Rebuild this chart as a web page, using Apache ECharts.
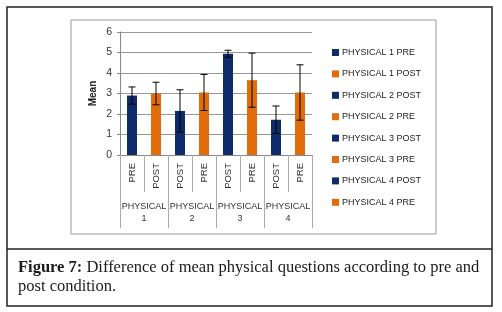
<!DOCTYPE html>
<html><head><meta charset="utf-8">
<script src="https://cdn.jsdelivr.net/npm/echarts@6/dist/echarts.min.js"></script>
<style>html,body{margin:0;padding:0;background:#fff}#c{width:502px;height:312px}</style>
</head><body><div id="c"></div>
<script>
const categories = ['PRE','POST','POST','PRE','POST','PRE','POST','PRE'];
const groups = ['PHYSICAL\n1','PHYSICAL\n2','PHYSICAL\n3','PHYSICAL\n4'];
const seriesNames = ['PHYSICAL 1 PRE','PHYSICAL 1 POST','PHYSICAL 2 POST','PHYSICAL 2 PRE','PHYSICAL 3 POST','PHYSICAL 3 PRE','PHYSICAL 4 POST','PHYSICAL 4 PRE'];
const means = [2.9, 3.0, 2.15, 3.05, 4.94, 3.65, 1.72, 3.05];
const errors = [0.42, 0.55, 1.03, 0.88, 0.17, 1.32, 0.67, 1.35];
const yTicks = [0,1,2,3,4,5,6];
const NAVY = '#0F2C6A', ORANGE = '#E36C0A';
const colors = seriesNames.map((n,i)=> i%2===0 ? NAVY : ORANGE);
const FONT = 'Liberation Sans';

const chart = echarts.init(document.getElementById('c'), null, {renderer:'canvas'});
const barSeries = seriesNames.map((name,i)=>({
  name, type:'bar', stack:'all', barWidth:10,
  itemStyle:{color:colors[i]},
  data: means.map((v,j)=> j===i ? v : '-'),
  xAxisIndex:0, yAxisIndex:0, z:2
}));
const errSeries = {
  type:'custom', xAxisIndex:0, yAxisIndex:0, z:5, silent:true,
  data: means.map((v,i)=>[i, v-errors[i], v+errors[i]]),
  renderItem:(params, api)=>{
    const lo = api.coord([api.value(0), api.value(1)]);
    const hi = api.coord([api.value(0), api.value(2)]);
    const hw = 3.5;
    const st = {stroke:'#000', lineWidth:1};
    return {type:'group', children:[
      {type:'line', shape:{x1:lo[0],y1:lo[1],x2:hi[0],y2:hi[1]}, style:st},
      {type:'line', shape:{x1:lo[0]-hw,y1:lo[1],x2:lo[0]+hw,y2:lo[1]}, style:st},
      {type:'line', shape:{x1:hi[0]-hw,y1:hi[1],x2:hi[0]+hw,y2:hi[1]}, style:st}
    ]};
  }
};
chart.setOption({
  animation:false,
  textStyle:{fontFamily:FONT},
  grid:{left:120, top:32, width:192, height:123, containLabel:false},
  legend:{
    orient:'vertical', left:327, top:43, itemWidth:7, itemHeight:7, itemGap:12.4,
    icon:'rect', data:seriesNames,
    textStyle:{fontFamily:FONT, fontSize:9, color:'#222', padding:[0,0,0,-2]}
  },
  xAxis:[{
    type:'category', data:categories, position:'bottom',
    axisLine:{lineStyle:{color:'#888'}},
    axisTick:{show:true, length:37, interval:0, lineStyle:{color:'#aaa'}},
    axisLabel:{rotate:90, margin:8, fontSize:9.5, color:'#333', fontFamily:FONT, interval:0}
  },{
    type:'category', data:groups, position:'bottom', offset:0,
    axisLine:{show:false},
    axisTick:{show:true, length:73, interval:0, lineStyle:{color:'#aaa'}},
    axisLabel:{margin:46, fontSize:9, lineHeight:12, color:'#333', fontFamily:FONT, interval:0}
  }],
  yAxis:{
    type:'value', min:yTicks[0], max:yTicks[yTicks.length-1], interval:1,
    name:'Mean', nameLocation:'middle', nameGap:22, nameRotate:90,
    nameTextStyle:{fontWeight:'bold', fontSize:10, color:'#222', fontFamily:FONT},
    axisLine:{show:true, lineStyle:{color:'#888'}},
    axisTick:{show:true, length:3, lineStyle:{color:'#888'}},
    axisLabel:{fontSize:10.5, color:'#333', margin:8, fontFamily:FONT},
    splitLine:{lineStyle:{color:'#999'}}
  },
  series:[...barSeries, errSeries],
  graphic:[
    {type:'rect', shape:{x:7,y:7,width:485,height:299}, style:{fill:'none', stroke:'#222', lineWidth:1.5}, z:-1},
    {type:'line', shape:{x1:7,y1:249,x2:492,y2:249}, style:{stroke:'#222', lineWidth:1.5}},
    {type:'rect', shape:{x:71,y:20,width:365,height:214}, style:{fill:'none', stroke:'#999', lineWidth:1}, z:-1},
    {type:'text', left:18, top:258, style:{
      text:'{b|Figure 7:} Difference of mean physical questions according to pre and\npost condition.',
      font:'16.5px "Liberation Serif"', fill:'#1a1a1a', lineHeight:19,
      rich:{b:{fontWeight:'bold', fontFamily:'Liberation Serif', fontSize:16.5, fill:'#1a1a1a', lineHeight:19}}
    }}
  ]
});
</script></body></html>
